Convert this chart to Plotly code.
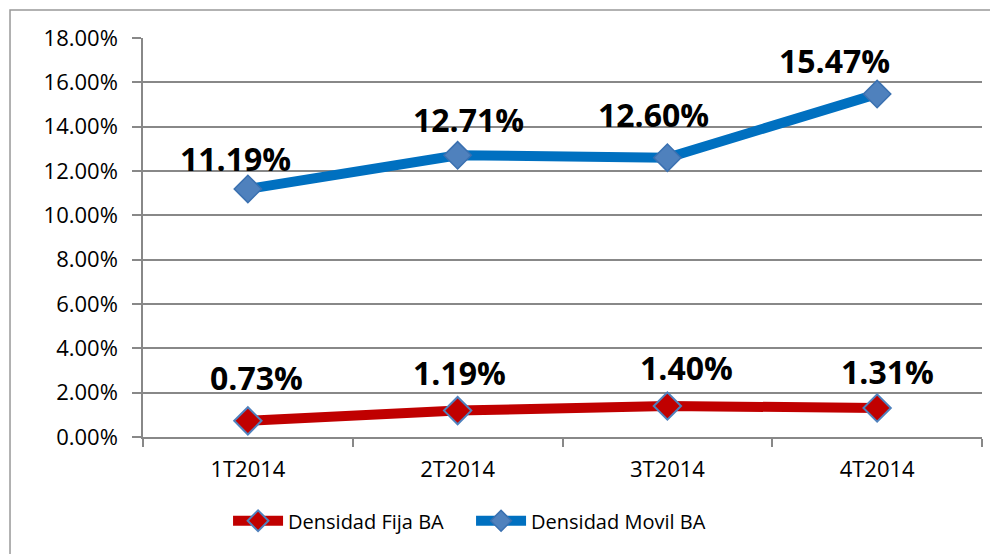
import plotly.graph_objects as go

categories = ["1T2014", "2T2014", "3T2014", "4T2014"]
fija = [0.0073, 0.0119, 0.0140, 0.0131]
movil = [0.1119, 0.1271, 0.1260, 0.1547]
fija_labels = ["0.73%", "1.19%", "1.40%", "1.31%"]
movil_labels = ["11.19%", "12.71%", "12.60%", "15.47%"]
y_ticks = [i * 0.02 for i in range(10)]
y_ticklabels = ["0.00%", "2.00%", "4.00%", "6.00%", "8.00%", "10.00%", "12.00%", "14.00%", "16.00%", "18.00%"]

FONT = "Open Sans"

fig = go.Figure()
fig.add_trace(go.Scatter(
    x=categories, y=fija, name="Densidad Fija BA", mode="lines+markers",
    line=dict(color="#C00000", width=10),
    marker=dict(symbol="diamond", size=21, color="#C00000", line=dict(color="#4F81BD", width=2)),
))
fig.add_trace(go.Scatter(
    x=categories, y=movil, name="Densidad Movil BA", mode="lines+markers",
    line=dict(color="#0070C0", width=10),
    marker=dict(symbol="diamond", size=21, color="#4F81BD", line=dict(color="#3A70B0", width=1.5)),
))

movil_shift = [(-12, 30), (11, 36), (-14, 43), (-43, 34)]
fija_shift = [(9, 43), (2, 38), (19, 38), (10, 36)]
for i, c in enumerate(categories):
    fig.add_annotation(x=c, y=movil[i], text=movil_labels[i], showarrow=False,
                       xshift=movil_shift[i][0], yshift=movil_shift[i][1],
                       font=dict(family=FONT, size=32, color="black", weight="bold"))
    fig.add_annotation(x=c, y=fija[i], text=fija_labels[i], showarrow=False,
                       xshift=fija_shift[i][0], yshift=fija_shift[i][1],
                       font=dict(family=FONT, size=32, color="black", weight="bold"))

fig.add_shape(type="rect", xref="paper", yref="paper", x0=-0.1585, x1=1.1, y0=-0.5, y1=1.0702,
              line=dict(color="#999999", width=1.5), fillcolor="rgba(0,0,0,0)", layer="below")

fig.update_layout(
    width=998, height=554,
    margin=dict(l=135, r=24, t=30, b=125),
    paper_bgcolor="white", plot_bgcolor="white",
    font=dict(family=FONT, size=22, color="black"),
    showlegend=True,
    legend=dict(orientation="h", x=0.391, xanchor="center", y=-0.21, yanchor="middle",
                font=dict(family=FONT, size=20), itemwidth=50, entrywidth=178,
                bgcolor="rgba(0,0,0,0)"),
    xaxis=dict(type="category", range=[-0.5, 3.5], tickson="boundaries", ticks="outside",
               ticklen=8, tickcolor="#888888", tickwidth=1.5, showgrid=False,
               showline=True, linecolor="#888888", linewidth=1.5, mirror=False,
               ticklabelstandoff=12, tickfont=dict(family=FONT, size=22)),
    yaxis=dict(range=[0, 0.18], tickvals=y_ticks, ticktext=y_ticklabels, ticks="outside",
               ticklen=9, tickcolor="#888888", tickwidth=1.5, showgrid=True, gridcolor="#888888",
               gridwidth=1.5, showline=True, linecolor="#888888", linewidth=1.5, zeroline=False,
               ticklabelstandoff=10, tickfont=dict(family=FONT, size=22)),
)

fig.write_html("out.html")
